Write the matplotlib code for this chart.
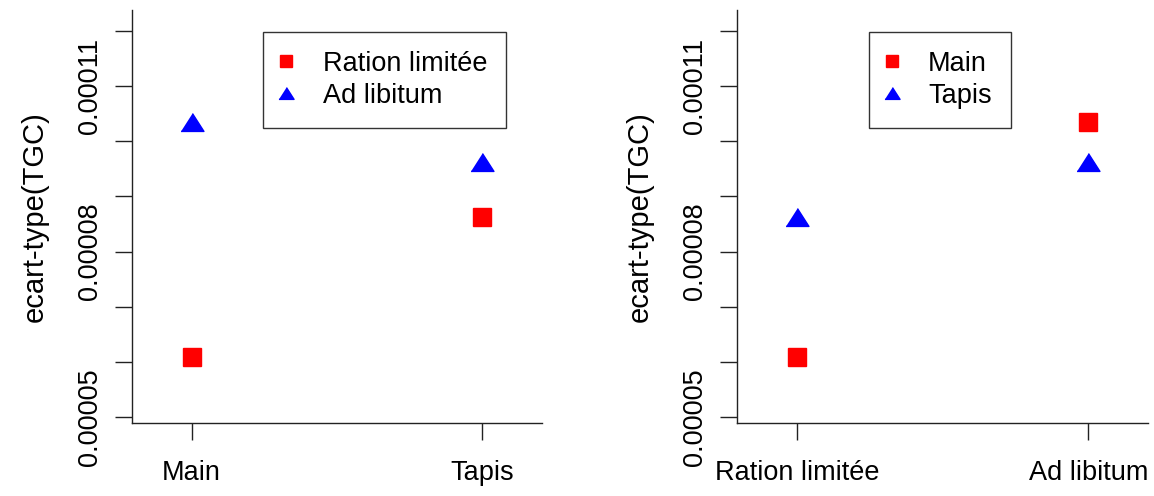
import numpy as np
import matplotlib
matplotlib.use("Agg")
import matplotlib.pyplot as plt

plt.rcParams['font.family'] = ['Liberation Sans', 'DejaVu Sans']

# data
groupes = ['Main', 'Tapis']
regimes = ['Ration limitée', 'Ad libitum']
sd_main = [6.09e-5, 1.034e-4]    # ration limitee, ad libitum
sd_tapis = [8.63e-5, 9.63e-5]    # ration limitee, ad libitum

yticks = [5e-5, 6e-5, 7e-5, 8e-5, 9e-5, 1e-4, 1.1e-4, 1.2e-4]
yticklabels = ['0.00005', '', '', '0.00008', '', '', '0.00011', '']

red = '#FF0000'
blue = '#0000FF'
tri = [(-1, -0.78), (1, -0.78), (0, 0.78)]  # flatter triangle like R pch 17
fs = 19.5

fig = plt.figure(figsize=(11.54, 4.96), dpi=100)
ax1 = fig.add_axes([132/1154, 73/496, 410/1154, 413/496])
ax2 = fig.add_axes([737/1154, 73/496, 411/1154, 413/496])

# left : x = groupe, series = regime
x = np.arange(1, len(groupes) + 1)
ax1.plot(x, [sd_main[0], sd_tapis[0]], linestyle='none', marker='s', ms=13,
         color=red, mec=red, label=regimes[0])
ax1.plot(x, [sd_main[1], sd_tapis[1]], linestyle='none', marker=tri, ms=16.5,
         color=blue, mec=blue, label=regimes[1])
ax1.set_xticks(x)
ax1.set_xticklabels(groupes)

# right : x = regime, series = groupe
x2 = np.arange(1, len(regimes) + 1)
ax2.plot(x2, sd_main, linestyle='none', marker='s', ms=13,
         color=red, mec=red, label=groupes[0])
ax2.plot(x2, sd_tapis, linestyle='none', marker=tri, ms=16.5,
         color=blue, mec=blue, label=groupes[1])
ax2.set_xticks(x2)
ax2.set_xticklabels(regimes)

for ax in (ax1, ax2):
    ax.set_xlim(0.795, 2.205)
    ax.set_ylim(4.89e-5, 1.238e-4)
    ax.set_yticks(yticks)
    ax.set_yticklabels(yticklabels, rotation=90, va='center')
    ax.spines['top'].set_visible(False)
    ax.spines['right'].set_visible(False)
    for s in ('left', 'bottom'):
        ax.spines[s].set_linewidth(1.0)
        ax.spines[s].set_color('#222222')
    ax.tick_params(axis='both', direction='out', length=12, width=1.0,
                   color='#222222', labelsize=fs)
    ax.tick_params(axis='y', pad=9)
    ax.tick_params(axis='x', pad=15)
    ax.set_ylabel('ecart-type(TGC)', fontsize=21, labelpad=20)
    leg = ax.legend(loc='upper left', bbox_to_anchor=(0.32, 0.947),
                    fontsize=fs, markerscale=0.66, frameon=True,
                    fancybox=False, edgecolor='black', borderpad=0.7,
                    labelspacing=0.22, handlelength=0.3, handletextpad=1.2,
                    borderaxespad=0)
    leg.get_frame().set_linewidth(1.0)

fig.savefig('out.png', dpi=100)
